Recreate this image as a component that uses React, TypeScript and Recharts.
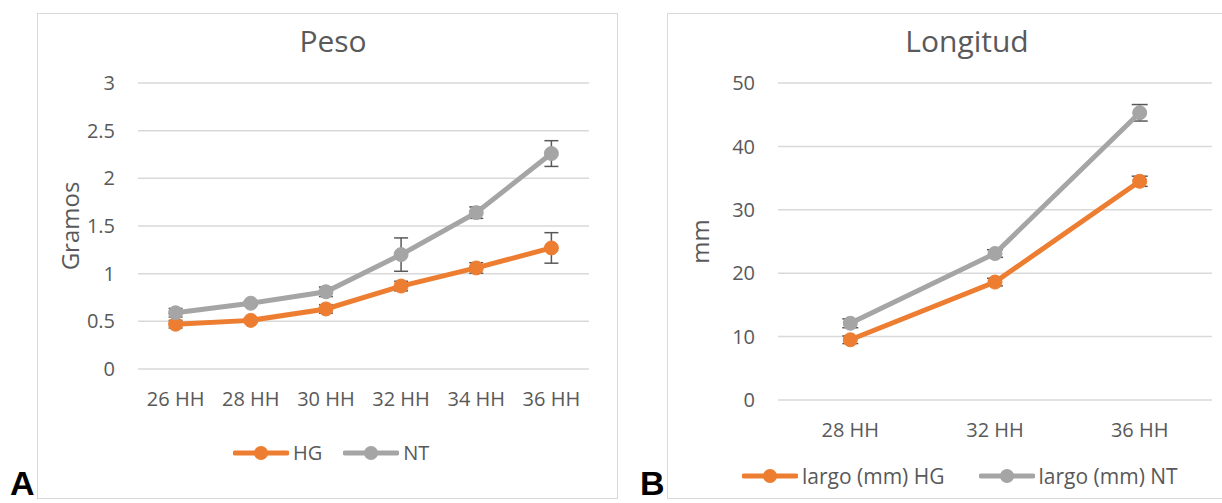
import type { ReactElement } from "react";
import {
  CartesianGrid,
  ErrorBar,
  Legend,
  Line,
  LineChart,
  XAxis,
  YAxis,
} from "recharts";

// Panel A: Peso
const pesoCategories = ["26 HH", "28 HH", "30 HH", "32 HH", "34 HH", "36 HH"];
const pesoHG = [0.47, 0.51, 0.63, 0.87, 1.06, 1.27];
const pesoHGErr = [0.04, 0.02, 0.045, 0.05, 0.055, 0.16];
const pesoNT = [0.59, 0.69, 0.81, 1.2, 1.64, 2.26];
const pesoNTErr = [0.045, 0.02, 0.05, 0.175, 0.06, 0.135];
const pesoTicks = [0, 0.5, 1, 1.5, 2, 2.5, 3];

// Panel B: Longitud
const longCategories = ["28 HH", "32 HH", "36 HH"];
const longHG = [9.5, 18.6, 34.5];
const longHGErr = [0.6, 0.6, 0.8];
const longNT = [12.1, 23.1, 45.3];
const longNTErr = [0.7, 0.6, 1.3];
const longTicks = [0, 10, 20, 30, 40, 50];

const ORANGE = "#ed7d31";
const GRAY = "#a5a5a5";
const TEXT = "#595959";
const GRID = "#d9d9d9";
const FONT = '"Open Sans", sans-serif';

const pesoData = pesoCategories.map((cat, i) => ({
  cat,
  hg: pesoHG[i],
  hgErr: pesoHGErr[i],
  nt: pesoNT[i],
  ntErr: pesoNTErr[i],
}));

const longData = longCategories.map((cat, i) => ({
  cat,
  hg: longHG[i],
  hgErr: longHGErr[i],
  nt: longNT[i],
  ntErr: longNTErr[i],
}));

type LegendItem = { label: string; color: string; gap: number };

function LegendRow({ items, fontSize }: { items: LegendItem[]; fontSize: number }): ReactElement {
  return (
    <div
      style={{
        display: "flex",
        alignItems: "center",
        height: 24,
        lineHeight: "24px",
        fontSize,
        color: TEXT,
        fontFamily: FONT,
        whiteSpace: "nowrap",
      }}
    >
      {items.map((item) => (
        <span key={item.label} style={{ display: "flex", alignItems: "center", marginRight: item.gap }}>
          <svg width={56} height={16} style={{ display: "block" }}>
            <line x1={2} x2={54} y1={8} y2={8} stroke={item.color} strokeWidth={5} strokeLinecap="round" />
            <circle cx={28} cy={8} r={7} fill={item.color} />
          </svg>
          <span style={{ marginLeft: 4 }}>{item.label}</span>
        </span>
      ))}
    </div>
  );
}

function AxisTitle({ x, y, text }: { x: number; y: number; text: string }): ReactElement {
  return (
    <text
      x={x}
      y={y}
      transform={`rotate(-90 ${x} ${y})`}
      textAnchor="middle"
      dominantBaseline="central"
      fill={TEXT}
      fontSize={24}
      fontFamily={FONT}
    >
      {text}
    </text>
  );
}

function PanelBox({ left, width }: { left: number; width: number }): ReactElement {
  return (
    <div
      style={{
        position: "absolute",
        left,
        top: 13,
        width,
        height: 486,
        border: "1px solid #d9d9d9",
        boxSizing: "border-box",
        background: "#fff",
      }}
    />
  );
}

function Title({ center, text }: { center: number; text: string }): ReactElement {
  return (
    <div
      style={{
        position: "absolute",
        left: center - 150,
        width: 300,
        top: 26,
        textAlign: "center",
        fontSize: 30,
        lineHeight: "30px",
        color: TEXT,
        fontFamily: FONT,
      }}
    >
      {text}
    </div>
  );
}

function PanelLetter({ left, text }: { left: number; text: string }): ReactElement {
  return (
    <div
      style={{
        position: "absolute",
        left,
        top: 464,
        height: 38,
        fontSize: 34,
        lineHeight: "38px",
        fontWeight: 700,
        color: "#000",
        fontFamily: '"Liberation Sans", Arial, sans-serif',
      }}
    >
      {text}
    </div>
  );
}

const tickStyle = { fill: TEXT, fontSize: 20, fontFamily: FONT };

function PesoChart(): ReactElement {
  return (
    <LineChart
      width={620}
      height={503}
      data={pesoData}
      margin={{ top: 83, right: 31, left: 0, bottom: 70 }}
      style={{ position: "absolute", left: 0, top: 0 }}
    >
      <CartesianGrid horizontal vertical={false} stroke={GRID} strokeWidth={1.5} />
      <XAxis
        dataKey="cat"
        height={40}
        interval={0}
        axisLine={false}
        tickLine={false}
        tickMargin={17}
        tick={tickStyle}
        padding={{ left: 37.6, right: 37.6 }}
      />
      <YAxis
        width={138}
        domain={[0, 3]}
        ticks={pesoTicks}
        axisLine={false}
        tickLine={false}
        tickMargin={17}
        tick={tickStyle}
        label={<AxisTitle x={66} y={224} text="Gramos" />}
      />
      <Legend
        content={() => (
          <LegendRow
            fontSize={20}
            items={[
              { label: "HG", color: ORANGE, gap: 21 },
              { label: "NT", color: GRAY, gap: 0 },
            ]}
          />
        )}
        wrapperStyle={{ top: 441, left: 233, width: 300, height: 24 }}
      />
      <Line
        type="linear"
        dataKey="hg"
        name="HG"
        stroke={ORANGE}
        strokeWidth={5}
        dot={{ r: 7, fill: ORANGE, stroke: ORANGE, strokeWidth: 1 }}
        activeDot={false}
        isAnimationActive={false}
      >
        <ErrorBar dataKey="hgErr" width={7} stroke={TEXT} strokeWidth={1.5} direction="y" isAnimationActive={false} />
      </Line>
      <Line
        type="linear"
        dataKey="nt"
        name="NT"
        stroke={GRAY}
        strokeWidth={5}
        dot={{ r: 7, fill: GRAY, stroke: GRAY, strokeWidth: 1 }}
        activeDot={false}
        isAnimationActive={false}
      >
        <ErrorBar dataKey="ntErr" width={7} stroke={TEXT} strokeWidth={1.5} direction="y" isAnimationActive={false} />
      </Line>
    </LineChart>
  );
}

function LongitudChart(): ReactElement {
  return (
    <LineChart
      width={602}
      height={503}
      data={longData}
      margin={{ top: 83, right: 10, left: 0, bottom: 39 }}
      style={{ position: "absolute", left: 620, top: 0 }}
    >
      <CartesianGrid horizontal vertical={false} stroke={GRID} strokeWidth={1.5} />
      <XAxis
        dataKey="cat"
        height={40}
        interval={0}
        axisLine={false}
        tickLine={false}
        tickMargin={17}
        tick={tickStyle}
        padding={{ left: 72.3, right: 72.3 }}
      />
      <YAxis
        width={158}
        domain={[0, 50]}
        ticks={longTicks}
        axisLine={false}
        tickLine={false}
        tickMargin={17}
        tick={tickStyle}
        label={<AxisTitle x={74} y={207} text="mm" />}
      />
      <Legend
        content={() => (
          <LegendRow
            fontSize={21}
            items={[
              { label: "largo (mm) HG", color: ORANGE, gap: 34 },
              { label: "largo (mm) NT", color: GRAY, gap: 0 },
            ]}
          />
        )}
        wrapperStyle={{ top: 464, left: 122, width: 470, height: 24 }}
      />
      <Line
        type="linear"
        dataKey="hg"
        name="largo (mm) HG"
        stroke={ORANGE}
        strokeWidth={5}
        dot={{ r: 7, fill: ORANGE, stroke: ORANGE, strokeWidth: 1 }}
        activeDot={false}
        isAnimationActive={false}
      >
        <ErrorBar dataKey="hgErr" width={8} stroke={TEXT} strokeWidth={1.5} direction="y" isAnimationActive={false} />
      </Line>
      <Line
        type="linear"
        dataKey="nt"
        name="largo (mm) NT"
        stroke={GRAY}
        strokeWidth={5}
        dot={{ r: 7, fill: GRAY, stroke: GRAY, strokeWidth: 1 }}
        activeDot={false}
        isAnimationActive={false}
      >
        <ErrorBar dataKey="ntErr" width={8} stroke={TEXT} strokeWidth={1.5} direction="y" isAnimationActive={false} />
      </Line>
    </LineChart>
  );
}

export default function App(): ReactElement {
  return (
    <div
      style={{
        position: "absolute",
        left: 0,
        top: 0,
        width: 1222,
        height: 503,
        overflow: "hidden",
        background: "#fff",
        fontFamily: FONT,
      }}
    >
      <PanelBox left={37} width={581} />
      <PanelBox left={667} width={600} />
      <PesoChart />
      <LongitudChart />
      <Title center={333} text="Peso" />
      <Title center={967} text="Longitud" />
      <PanelLetter left={10} text="A" />
      <PanelLetter left={640} text="B" />
    </div>
  );
}
